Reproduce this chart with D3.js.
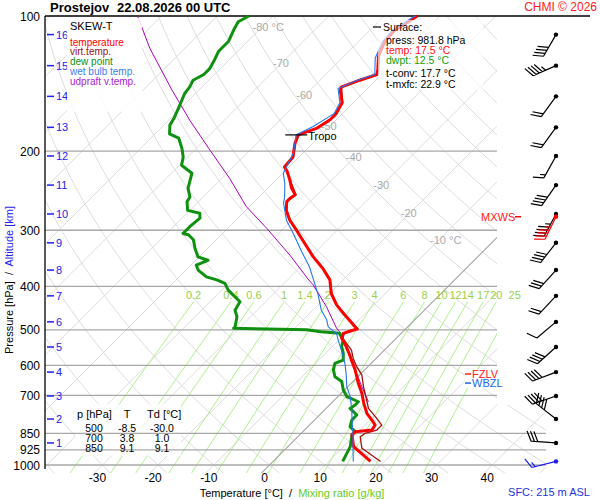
<!DOCTYPE html>
<html>
<head>
<meta charset="utf-8">
<script src="https://cdn.jsdelivr.net/npm/d3@7"></script>
<style>
  body { margin: 0; background: #fff; }
  svg { font-family: "Liberation Sans", Arial, sans-serif; }
</style>
</head>
<body>
<svg id="chart" width="600" height="500"></svg>
<script>
// ---- sounding data: [pressure hPa, value °C] ----
const tempProfile = [[981.8,17.5],[910,11.8],[857,9.4],[843,9.4],[836,12.1],[815,11.8],[794,10.3],[767,8.2],[728,5.8],[692,3.7],[658,1.3],[614,-1.7],[584,-4.1],[559,-6.2],[536,-8.3],[522,-9.8],[509,-10.4],[505,-9.8],[498,-8.7],[459,-14.0],[440,-16.7],[415,-19.7],[387,-22.4],[365,-25.7],[344,-29.5],[313,-34.9],[300,-37.3],[285,-40.3],[271,-42.7],[259,-44.2],[255,-44.2],[250,-43.9],[242,-45.7],[232,-47.5],[222,-49.5],[217,-50.8],[206,-51.1],[192,-53.2],[184,-54.1],[178,-52.0],[170,-51.1],[165,-51.1],[156,-52.0],[147,-54.4],[144,-55.0],[139,-52.9],[135,-50.8],[131,-51.7],[123,-53.8],[120,-54.4],[114,-55.3],[108,-55.6],[105,-55.0],[100,-54.1]];
const virtProfile = [[981.8,19.3],[918,13.6],[865,11.2],[850,11.5],[836,13.0],[815,13.0],[780,10.3],[748,7.6],[717,5.8],[669,2.8],[630,0.4],[604,-2.0],[579,-4.1],[555,-5.9],[536,-8.0],[522,-9.6],[509,-10.2],[498,-8.5],[459,-13.9],[440,-16.6],[415,-19.6],[387,-22.3],[365,-25.6],[344,-29.4],[313,-34.8],[300,-37.2],[285,-40.2],[271,-42.6],[259,-44.1],[250,-43.8],[232,-47.4],[217,-50.7],[206,-51.0],[192,-53.1],[184,-54.0],[178,-51.9],[170,-51.0],[156,-51.9],[144,-54.9],[135,-50.7],[123,-53.7],[114,-55.2],[108,-55.5],[100,-54.0]];
const dewProfile = [[981.8,12.5],[910,11.2],[857,9.4],[843,9.4],[822,7.6],[794,6.7],[774,6.7],[748,4.3],[735,4.6],[723,4.6],[704,1.6],[681,-0.2],[652,-2.0],[636,-4.1],[614,-5.6],[594,-6.5],[584,-5.6],[564,-6.8],[545,-8.3],[527,-9.2],[513,-10.7],[509,-11.0],[505,-14.7],[500,-17.6],[496,-31.0],[492,-31.0],[467,-32.5],[452,-34.0],[433,-34.6],[408,-38.8],[394,-40.6],[387,-42.7],[381,-45.1],[368,-47.8],[359,-49.0],[350,-47.8],[344,-50.2],[329,-52.3],[315,-54.1],[307,-55.9],[305,-57.1],[295,-57.1],[282,-56.8],[275,-57.7],[271,-60.4],[259,-62.1],[253,-62.4],[242,-64.3],[232,-65.4],[224,-66.3],[215,-69.6],[206,-70.8],[197,-72.6],[187,-75.0],[183,-77.4],[175,-78.9],[168,-79.5],[158,-80.7],[149,-81.9],[144,-82.2],[139,-82.8],[135,-81.9],[131,-81.9],[126,-82.5],[120,-83.4],[114,-83.4],[107,-84.6],[103,-85.2],[100,-84.3]];
const wetBulbProfile = [[981.8,14.4],[918,12.0],[850,9.3],[800,7.0],[754,4.9],[704,2.2],[669,-0.2],[625,-2.7],[594,-4.7],[555,-7.7],[527,-10.1],[509,-11.6],[500,-13.1],[492,-14.3],[475,-15.8],[452,-18.5],[418,-21.8],[394,-24.5],[362,-28.4],[335,-32.5],[305,-37.3],[285,-40.9],[261,-44.5],[253,-45.4],[236,-47.8],[224,-49.9],[202,-51.7],[190,-53.5],[184,-54.5],[176,-52.9],[165,-51.5],[156,-52.4],[145,-55.3],[139,-53.3],[135,-51.2],[124,-54.1],[114,-55.7],[108,-56.0],[100,-54.5]];
const updraftProfile = [[723,6.4],[669,2.5],[625,-0.8],[574,-5.0],[513,-10.7],[505,-11.3],[496,-12.5],[444,-18.2],[397,-24.5],[387,-26.2],[341,-34.0],[297,-43.0],[266,-50.5],[230,-58.6],[199,-67.2],[171,-76.1],[146,-84.9],[118,-96.3],[100,-104.3]];

// ---- axes / grid values ----
const pressureLevels = [100, 200, 300, 400, 500, 600, 700, 850, 925, 1000];
const longLevels = [850, 925, 1000];
const tempTicks = [-30, -20, -10, 0, 10, 20, 30, 40];
const mixingRatios = [0.2, 0.4, 0.6, 1, 1.4, 2, 3, 4, 6, 8, 10, 12, 14, 17, 20, 25];
const mixingLabels = ["0.2", "0.4", "0.6", "1", "1.4", "2", "3", "4", "6", "8", "10", "12", "14", "17", "20", "25"];
const isoLabelT = [-80, -70, -60, -50, -40, -30, -20, -10];
const isoLabelP = [106, 127, 150, 176, 206, 238, 275, 315];
const altKm = [16, 15, 14, 13, 12, 11, 10, 9, 8, 7, 6, 5, 4, 3, 2, 1];
const altP = [110, 129, 151, 177, 205, 238, 276, 320, 368, 420, 480, 546, 621, 702, 790, 893];

// ---- wind (per altitude km level) ----
const windDir = [210, 246, 216, 216, 209, 215, 208, 218, 222, 223, 230, 228, 249, 251, 308, 274];
const windSpd = [40, 45, 20, 20, 15, 40, 45, 40, 30, 20, 10, 40, 40, 40, 40, 30];
const sfcWind = { p: 981.8, dir: 256, spd: 15 };
const maxWind = { p: 280, dir: 206, spd: 45 };

// ---- levels / tables ----
const tropoP = 184, tropoT = -54.1;
const fzlvP = 627, wbzlP = 657;
const surfaceLines = ["press: 981.8 hPa", "temp: 17.5 °C", "dwpt: 12.5 °C", "t-conv: 17.7 °C", "t-mxfc: 22.9 °C"];
const tableRows = [["500", "-8.5", "-30.0"], ["700", "3.8", "1.0"], ["850", "9.1", "9.1"]];

const svg = d3.select("#chart");

// scales: log pressure, linear temperature at the bottom, 45° skew
const y = d3.scaleLog().domain([1000, 100]).range([465, 16]);
const xT = d3.scaleLinear().domain([0, 10]).range([264.5, 320.2]);
const yRef = 470;
const sx = (T, p) => xT(T) + (yRef - y(p));
const pBottom = y.invert(473);

const plotL = 45, plotR = 497, plotT = 16, plotB = 473;

// main plot area plus the small strip below 700 hPa that runs on under the barbs
const clip = svg.append("defs").append("clipPath").attr("id", "plotclip");
clip.append("rect").attr("x", plotL).attr("y", plotT).attr("width", plotR - plotL).attr("height", plotB - plotT);
clip.append("rect").attr("x", plotR - 1).attr("y", 405).attr("width", 50).attr("height", plotB - 405);

const grid = svg.append("g").attr("clip-path", "url(#plotclip)");
const line = d3.line().x(d => sx(d[1], d[0])).y(d => y(d[0]));

// isotherms
d3.range(-170, 60, 10).forEach(T => {
  grid.append("path").attr("d", line([[pBottom, T], [100, T]]))
    .attr("stroke", "#dcdcdc").attr("stroke-width", 1).attr("fill", "none");
});

// dry adiabats
const pSteps = d3.range(pBottom, 99, -10).concat([100]);
d3.range(-40, 240, 10).forEach(th => {
  const pts = pSteps.map(p => [p, (th + 273.15) * Math.pow(p / 1000, 0.2857) - 273.15]);
  grid.append("path").attr("d", line(pts))
    .attr("stroke", "#dcdcdc").attr("stroke-width", 1).attr("fill", "none");
});

// mixing ratio lines
const tdFromW = (w, p) => {
  const e = w * p / (622 + w);
  const l = Math.log(e / 6.112);
  return 243.5 * l / (17.67 - l);
};
const mixTop = 433;
mixingRatios.forEach((w, i) => {
  const pts = d3.range(pBottom, mixTop, -20).concat([mixTop]).map(p => [p, tdFromW(w, p)]);
  grid.append("path").attr("d", line(pts))
    .attr("stroke", "#aef08c").attr("stroke-width", 1).attr("fill", "none");
  svg.append("text").attr("x", sx(tdFromW(w, mixTop), mixTop)).attr("y", y(mixTop) - 3)
    .attr("text-anchor", "middle").attr("font-size", 11).attr("fill", "#9ad04a")
    .text(mixingLabels[i]);
});

// 0 °C isotherm
grid.append("path").attr("d", line([[pBottom, 0], [100, 0]]))
  .attr("stroke", "#888").attr("stroke-width", 1).attr("fill", "none");

// isotherm labels
isoLabelT.forEach((T, i) => {
  const p = isoLabelP[i];
  svg.append("text").attr("x", sx(T, p) - 9).attr("y", y(p) + 4)
    .attr("font-size", 11).attr("fill", "#aaa")
    .text(T + (i === 0 || i === isoLabelT.length - 1 ? " °C" : ""));
});

// table box (semi-transparent)
svg.append("rect").attr("x", 75).attr("y", 404).attr("width", 106).attr("height", 52)
  .attr("fill", "#fff").attr("opacity", 0.75);

// pressure lines
pressureLevels.forEach(p => {
  if (p === 100) return;
  svg.append("line").attr("x1", plotL).attr("x2", longLevels.includes(p) ? 546 : plotR)
    .attr("y1", y(p)).attr("y2", y(p)).attr("stroke", "#a8a8a8").attr("stroke-width", 1.3);
});
svg.append("line").attr("x1", plotL).attr("x2", 590).attr("y1", y(100)).attr("y2", y(100))
  .attr("stroke", "#000").attr("stroke-width", 1.3);
svg.append("line").attr("x1", plotL).attr("x2", plotL).attr("y1", y(100)).attr("y2", 469)
  .attr("stroke", "#000").attr("stroke-width", 1.3);

// pressure labels
pressureLevels.forEach(p => {
  svg.append("text").attr("x", 40).attr("y", y(p) + 4.5).attr("text-anchor", "end")
    .attr("font-size", 12).attr("fill", "#000").text(p);
});

// altitude ticks
altKm.forEach((k, i) => {
  const yy = y(altP[i]);
  svg.append("line").attr("x1", 47).attr("x2", 54).attr("y1", yy).attr("y2", yy)
    .attr("stroke", "#2222ee").attr("stroke-width", 1.5);
  svg.append("text").attr("x", 56).attr("y", yy + 4).attr("font-size", 11)
    .attr("fill", "#2222ee").text(k);
});

// temperature tick labels
tempTicks.forEach(T => {
  svg.append("text").attr("x", xT(T)).attr("y", 482).attr("text-anchor", "middle")
    .attr("font-size", 12).attr("fill", "#000").text(T);
});

// profiles
const drawProfile = (data, color, width) => {
  svg.append("path").datum(data).attr("d", line)
    .attr("fill", "none").attr("stroke", color).attr("stroke-width", width)
    .attr("stroke-linejoin", "round");
};
drawProfile(updraftProfile, "#aa00bb", 1);
drawProfile(dewProfile, "#109010", 3);
drawProfile(virtProfile, "#a01010", 1.3);
drawProfile(tempProfile, "#ff0000", 3);
drawProfile(wetBulbProfile, "#2277ee", 1.1);

// tropopause
const tropY = y(tropoP), tropX = sx(tropoT, tropoP);
svg.append("line").attr("x1", tropX - 13).attr("x2", tropX + 9).attr("y1", tropY).attr("y2", tropY)
  .attr("stroke", "#000").attr("stroke-width", 1.2);
svg.append("text").attr("x", tropX + 10).attr("y", tropY + 5).attr("font-size", 11).text("Tropo");

// wind barbs: dot at the station, staff toward where the wind comes from
function drawBarb(p, dir, spd, color) {
  const x0 = 556, y0 = y(p);
  const r = dir * Math.PI / 180;
  const ux = Math.sin(r), uy = -Math.cos(r);
  const L = 25, sp = 3.4, bl = 11;
  const ex = x0 + ux * L, ey = y0 + uy * L;
  const a = Math.atan2(uy, ux) + 65 * Math.PI / 180;
  const bx = Math.cos(a), by = Math.sin(a);
  const path = d3.path();
  path.moveTo(x0, y0); path.lineTo(ex, ey);
  const full = Math.floor(spd / 10), half = spd % 10 >= 5;
  let i = 0;
  for (; i < full; i++) {
    const px = ex - ux * i * sp, py = ey - uy * i * sp;
    path.moveTo(px, py); path.lineTo(px + bx * bl, py + by * bl);
  }
  if (half) {
    const k = i === 0 ? 1 : i;
    const px = ex - ux * k * sp, py = ey - uy * k * sp;
    path.moveTo(px, py); path.lineTo(px + bx * bl * 0.5, py + by * bl * 0.5);
  }
  svg.append("path").attr("d", path.toString()).attr("fill", "none")
    .attr("stroke", color).attr("stroke-width", 1.2);
  svg.append("circle").attr("cx", x0).attr("cy", y0).attr("r", 2.2).attr("fill", color);
}
altKm.forEach((k, i) => drawBarb(altP[i], windDir[i], windSpd[i], "#000"));
drawBarb(maxWind.p, maxWind.dir, maxWind.spd, "#ff0000");
drawBarb(sfcWind.p, sfcWind.dir, sfcWind.spd, "#1a1aee");

// MXWS / FZLV / WBZL labels
svg.append("text").attr("x", 481).attr("y", y(maxWind.p) + 4).attr("font-size", 11)
  .attr("fill", "#ff2020").text("MXWS");
svg.append("line").attr("x1", 515).attr("x2", 521).attr("y1", y(maxWind.p)).attr("y2", y(maxWind.p))
  .attr("stroke", "#ff0000").attr("stroke-width", 1.5);
svg.append("rect").attr("x", 465).attr("y", y(fzlvP) - 5).attr("width", 41).attr("height", 19)
  .attr("fill", "#fff").attr("opacity", 0.85);
[[fzlvP, "FZLV", "#ff2020"], [wbzlP, "WBZL", "#2266ee"]].forEach(([p, t, c]) => {
  const yy = y(p);
  svg.append("line").attr("x1", 465).attr("x2", 471).attr("y1", yy).attr("y2", yy)
    .attr("stroke", c).attr("stroke-width", 1.5);
  svg.append("text").attr("x", 472).attr("y", yy + 4).attr("font-size", 11).attr("fill", c).text(t);
});

// legend box
svg.append("rect").attr("x", 67).attr("y", 18).attr("width", 75).attr("height", 94)
  .attr("fill", "#fff").attr("opacity", 0.85);
svg.append("text").attr("x", 70).attr("y", 30).attr("font-size", 11).text("SKEW-T");
[["temperature", "#ff0000"], ["virt.temp.", "#a01010"], ["dew point", "#109010"],
 ["wet bulb temp.", "#3a80ee"], ["udpraft v.temp.", "#aa22cc"]].forEach(([t, c], i) => {
  svg.append("text").attr("x", 70).attr("y", 45.5 + i * 9.9).attr("font-size", 10)
    .attr("fill", c).text(t);
});

// surface box
svg.append("rect").attr("x", 378).attr("y", 20).attr("width", 105).attr("height", 70)
  .attr("fill", "#fff").attr("opacity", 0.65);
svg.append("line").attr("x1", 373).attr("x2", 381).attr("y1", 27).attr("y2", 27)
  .attr("stroke", "#000").attr("stroke-width", 1.2);
svg.append("text").attr("x", 383).attr("y", 31).attr("font-size", 10.5).text("Surface:");
const surfY = [43.5, 53.5, 63.5, 77, 87.5];
const surfC = ["#000", "#ff1010", "#10a010", "#000", "#000"];
surfaceLines.forEach((t, i) => {
  svg.append("text").attr("x", 386).attr("y", surfY[i]).attr("font-size", 10.5)
    .attr("fill", surfC[i]).text(t);
});

// level table
const colX = [94, 127, 162];
svg.append("text").attr("x", 77).attr("y", 418).attr("font-size", 11).text("p [hPa]");
svg.append("text").attr("x", 127).attr("y", 418).attr("font-size", 11).attr("text-anchor", "middle").text("T");
svg.append("text").attr("x", 147).attr("y", 418).attr("font-size", 11).text("Td [°C]");
tableRows.forEach((row, r) => {
  row.forEach((v, c) => {
    svg.append("text").attr("x", colX[c]).attr("y", 432 + r * 10).attr("font-size", 10.5)
      .attr("text-anchor", "middle").text(v);
  });
});

// titles
svg.append("text").attr("x", 50).attr("y", 12).attr("font-size", 13).attr("font-weight", "bold")
  .text("Prostejov");
svg.append("text").attr("x", 117).attr("y", 12).attr("font-size", 13).attr("font-weight", "bold")
  .text("22.08.2026 00 UTC");
svg.append("text").attr("x", 597).attr("y", 11).attr("font-size", 12).attr("text-anchor", "end")
  .attr("fill", "#ff2020").text("CHMI © 2026");

const xt = svg.append("text").attr("x", 292).attr("y", 497).attr("text-anchor", "middle")
  .attr("font-size", 11).attr("xml:space", "preserve");
xt.append("tspan").attr("fill", "#000").text("Temperature [°C]  /  ");
xt.append("tspan").attr("fill", "#66cc22").text("Mixing ratio [g/kg]");

svg.append("text").attr("x", 590).attr("y", 496).attr("text-anchor", "end").attr("font-size", 11)
  .attr("fill", "#2233dd").text("SFC: 215 m ASL");

const yt = svg.append("text").attr("transform", "translate(13,280) rotate(-90)")
  .attr("text-anchor", "middle").attr("font-size", 11).attr("xml:space", "preserve");
yt.append("tspan").attr("fill", "#000").text("Pressure [hPa]  /  ");
yt.append("tspan").attr("fill", "#2222ee").text("Altitude [km]");
</script>
</body>
</html>
